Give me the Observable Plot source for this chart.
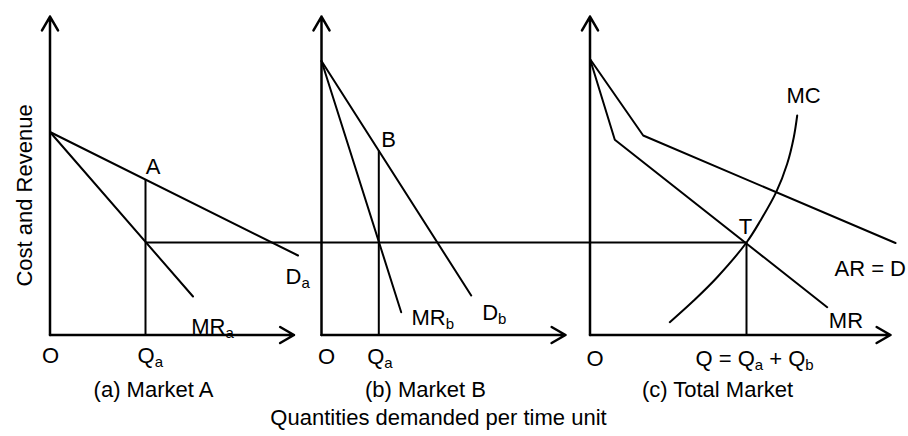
<!DOCTYPE html>
<html>
<head>
<meta charset="utf-8">
<script src="https://cdn.jsdelivr.net/npm/d3@7"></script>
<script src="https://cdn.jsdelivr.net/npm/@observablehq/plot@0.6"></script>
<style>
  html, body { margin: 0; padding: 0; background: #fff; }
  #chart { width: 908px; height: 436px; }
</style>
</head>
<body>
<div id="chart"></div>
<script>
// ---------------- DATA (quantity, price) per panel ----------------
const panelKeys = ["a", "b", "c"];
const panelTitles = ["(a) Market A", "(b) Market B", "(c) Total Market"];
const quantityAxisLength = [24.4, 24.4, 30.05];
const priceAxisTop = 31.85;
const mcLevel = 9.25;

const demandA = [[0, 20.3], [24.8, 7.95]];
const marginalRevenueA = [[0, 20.3], [14.3, 3.85]];
const quantityA = 9.55;
const priceA = 15.55;

const demandB = [[0, 27.4], [14.97, 3.95]];
const marginalRevenueB = [[0, 27.4], [7.97, 2.28]];
const quantityB = 5.73;
const priceB = 18.4;

const averageRevenueC = [[0, 27.6], [5.32, 19.95], [30.55, 9.2]];
const marginalRevenueC = [[0, 27.6], [2.48, 19.52], [23.72, 2.78]];
const marginalCostC = [[7.98, 1.28], [10.38, 3.45], [12.72, 5.78], [15.65, 9.25], [17.05, 11.45],
                       [18.62, 14.28], [19.72, 17.12], [20.38, 19.78], [20.72, 21.95]];
const quantityT = 15.65;

const curveLabels = [
  {panel: "a", q: 10.3,  p: 16.85, text: "A",      anchor: "middle"},
  {panel: "a", q: 23.55, p: 5.85,  text: "D_a",    anchor: "start"},
  {panel: "a", q: 14.12, p: 0.8,   text: "MR_a",   anchor: "start"},
  {panel: "b", q: 6.7,   p: 19.55, text: "B",      anchor: "middle"},
  {panel: "b", q: 9.0,   p: 1.7,   text: "MR_b",   anchor: "start"},
  {panel: "b", q: 16.07, p: 2.2,   text: "D_b",    anchor: "start"},
  {panel: "c", q: 21.35, p: 23.95, text: "MC",     anchor: "middle"},
  {panel: "c", q: 15.55, p: 10.78, text: "T",      anchor: "middle"},
  {panel: "c", q: 31.6,  p: 6.65,  text: "AR = D", anchor: "end"},
  {panel: "c", q: 23.88, p: 1.4,   text: "MR",     anchor: "start"}
];
const axisLabels = [
  {panel: "a", q: 0.05,  p: -2.05, text: "O",             anchor: "middle"},
  {panel: "a", q: 8.75,  p: -2.05, text: "Q_a",           anchor: "start"},
  {panel: "b", q: 0.5,   p: -2.15, text: "O",             anchor: "middle"},
  {panel: "b", q: 4.57,  p: -2.15, text: "Q_a",           anchor: "start"},
  {panel: "c", q: 0.5,   p: -2.4,  text: "O",             anchor: "middle"},
  {panel: "c", q: 10.55, p: -2.4,  text: "Q = Q_a + Q_b", anchor: "start"}
];
const titleQuantities = [10.35, 10.4, 12.75];
const yAxisLabel = "Cost and Revenue";
const xAxisCaption = "Quantities demanded per time unit";

// ---------------- LAYOUT ----------------
const W = 908, H = 436;
const panelOffset = {a: 0, b: 27.15, c: 54.0};
const titleLevel = -5.45;
const captionPos = {q: 38.85, p: -8.3};
const yLabelPos = {q: -2.55, p: 13.95};
const FONT = "'Liberation Sans', Arial, Helvetica, sans-serif";
const FONT_SIZE = 22;

const shift = (k, pts, id) => pts.map(([q, p]) => ({x: panelOffset[k] + q, y: p, id}));

const axes = panelKeys.flatMap((k, i) => [
  {x1: panelOffset[k], y1: 0, x2: panelOffset[k], y2: priceAxisTop},
  {x1: panelOffset[k], y1: 0, x2: panelOffset[k] + quantityAxisLength[i], y2: 0}
]);

const straightLines = [
  ...shift("a", demandA, "Da"),
  ...shift("a", marginalRevenueA, "MRa"),
  ...shift("b", demandB, "Db"),
  ...shift("b", marginalRevenueB, "MRb"),
  ...shift("c", averageRevenueC, "AR"),
  ...shift("c", marginalRevenueC, "MR")
];
const mcLine = shift("c", marginalCostC, "MC");

const verticals = [
  {x: panelOffset.a + quantityA, y1: 0, y2: priceA},
  {x: panelOffset.b + quantityB, y1: 0, y2: priceB},
  {x: panelOffset.c + quantityT, y1: 0, y2: mcLevel}
];
const horizontals = [{y: mcLevel, x1: panelOffset.a + quantityA, x2: panelOffset.c + quantityT}];

const allLabels = [...curveLabels, ...axisLabels].map(d => ({...d, x: panelOffset[d.panel] + d.q, y: d.p}));
const titles = panelKeys.map((k, i) => ({x: panelOffset[k] + titleQuantities[i], y: titleLevel, text: panelTitles[i]}));

const textOpts = {x: "x", y: "y", text: "text", fontSize: FONT_SIZE, fill: "black", fontFamily: FONT};

const chart = Plot.plot({
  width: W,
  height: H,
  margin: 0,
  x: {domain: [-4.95, 85.85], axis: null},
  y: {domain: [-10.15, 33.45], axis: null},
  style: {fontFamily: FONT, fontSize: FONT_SIZE + "px", background: "white", color: "black"},
  marks: [
    Plot.ruleX(verticals, {x: "x", y1: "y1", y2: "y2", stroke: "black", strokeWidth: 2}),
    Plot.ruleY(horizontals, {y: "y", x1: "x1", x2: "x2", stroke: "black", strokeWidth: 2}),
    Plot.line(straightLines, {x: "x", y: "y", z: "id", stroke: "black", strokeWidth: 2}),
    Plot.line(mcLine, {x: "x", y: "y", stroke: "black", strokeWidth: 2, curve: "catmull-rom"}),
    Plot.arrow(axes, {x1: "x1", y1: "y1", x2: "x2", y2: "y2", stroke: "black", strokeWidth: 2.5, headLength: 9.6, headAngle: 60}),
    Plot.text(allLabels.filter(d => d.anchor === "middle"), {...textOpts, textAnchor: "middle"}),
    Plot.text(allLabels.filter(d => d.anchor === "start"), {...textOpts, textAnchor: "start"}),
    Plot.text(allLabels.filter(d => d.anchor === "end"), {...textOpts, textAnchor: "end"}),
    Plot.text(titles, {...textOpts, textAnchor: "middle"}),
    Plot.text([{x: captionPos.q, y: captionPos.p, text: xAxisCaption}], {...textOpts, textAnchor: "middle"}),
    Plot.text([{x: yLabelPos.q, y: yLabelPos.p, text: yAxisLabel}], {...textOpts, textAnchor: "middle", rotate: -90})
  ]
});

// subscripts: "X_y" -> X with subscript y
const NS = "http://www.w3.org/2000/svg";
chart.querySelectorAll("text").forEach(el => {
  if (el.childElementCount !== 0 || !el.textContent.includes("_")) return;
  const parts = el.textContent.split(/_(\w)/);
  el.textContent = "";
  let down = false;
  parts.forEach((part, i) => {
    if (part === "") return;
    const t = document.createElementNS(NS, "tspan");
    t.textContent = part;
    if (i % 2 === 1) {
      t.setAttribute("dy", "4");
      t.setAttribute("font-size", "15");
      down = true;
    } else if (down) {
      t.setAttribute("dy", "-4");
      down = false;
    }
    el.appendChild(t);
  });
});

document.getElementById("chart").appendChild(chart);
</script>
</body>
</html>
